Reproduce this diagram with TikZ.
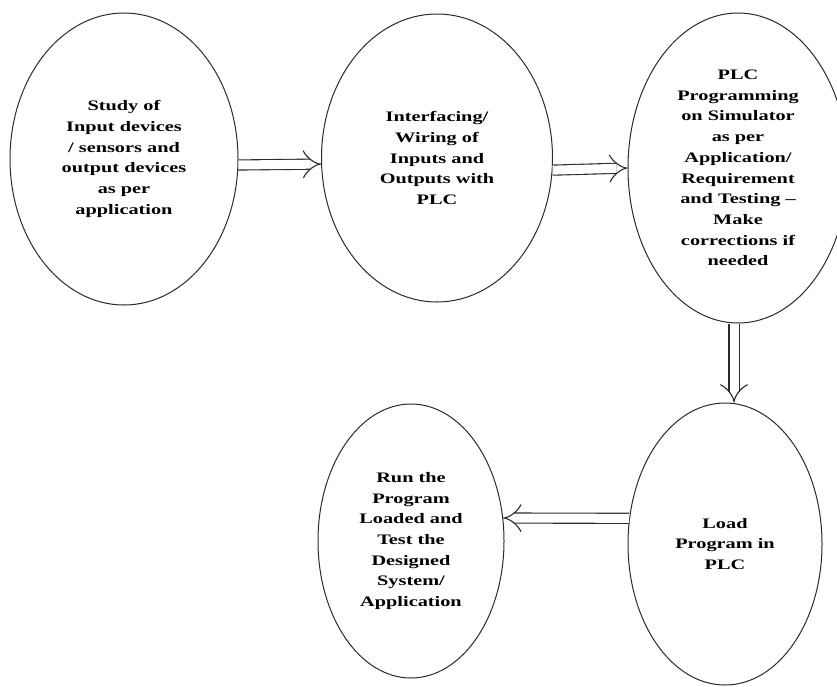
\documentclass[tikz,border=0pt]{standalone}
\usepackage{fontspec}
\setmainfont{Liberation Serif}[FakeStretch=1.4]
\usepackage{xcolor}
\definecolor{stageline}{HTML}{2B2B2B}
\usepackage{tikz}
\usetikzlibrary{arrows.meta,positioning,shapes.geometric}

\begin{document}
\begin{tikzpicture}[x=1pt,y=-1pt,
  font=\bfseries\fontsize{14.5}{20.7}\selectfont,
  stage/.style={draw=stageline,line width=1pt,ellipse,inner sep=0pt,align=center},
  flow/.style={draw=stageline,double,double distance=9pt,line width=1.1pt,-{Implies[length=10pt,width=24pt]}}]
% page
\fill[white] (0,0) rectangle (837,686);
\clip (0,0) rectangle (837,686);
% stages
\node[stage,minimum width=228pt,minimum height=292pt] (study) at (124,159)
  {Study of\\Input devices\\/ sensors and\\output devices\\as per\\application};
\node[stage,minimum width=231pt,minimum height=288pt] (wiring) at (437,158)
  {Interfacing/\\Wiring of\\Inputs and\\Outputs with\\PLC};
\node[stage,minimum width=220pt,minimum height=310pt] (plcprog) at (738,168)
  {PLC\\Programming\\on Simulator\\as per\\Application/\\Requirement\\and Testing --\\Make\\corrections if\\needed};
\node[stage,minimum width=194pt,minimum height=282pt] (load) at (725,544)
  {Load\\Program in\\PLC};
\node[stage,minimum width=186pt,minimum height=274pt] (runtest) at (411,541)
  {Run the\\Program\\Loaded and\\Test the\\Designed\\System/\\Application};
% hollow arrows
\coordinate (downx) at (734,0);
\draw[flow] (study.-3) -- (wiring.183);
\draw[flow] (wiring.-6) -- (plcprog.180);
\draw[flow] (plcprog.south -| downx) -- (load.north -| downx);
\draw[flow] (load.165) -- (runtest.14);
\end{tikzpicture}
\end{document}
